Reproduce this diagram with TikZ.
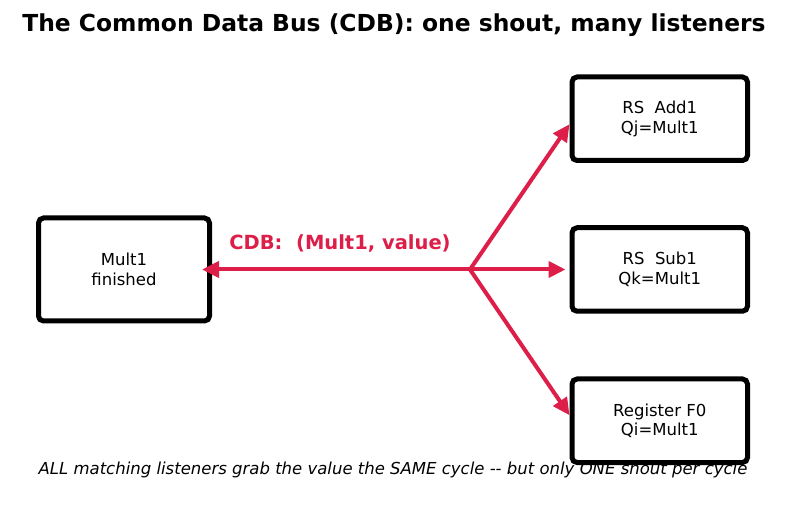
\documentclass[tikz,border=0pt]{standalone}
\usepackage{fontspec}
\setmainfont{DejaVu Sans}
\usetikzlibrary{arrows.meta}
\definecolor{cdbred}{RGB}{220,30,72}
\tikzset{
  unitbox/.style={draw=black, line width=5pt, rounded corners=5pt, align=center,
    font=\fontsize{16.5}{19.5}\selectfont, inner sep=0pt},
  cdbarrow/.style={draw=cdbred, line width=4pt, -{Triangle[length=17pt,width=16pt]}},
}
\begin{document}
\begin{tikzpicture}[x=1pt,y=-1pt]
\useasboundingbox (0,0) rectangle (787,510);
\node[font=\fontsize{23.4}{28}\selectfont\bfseries] (title) at (394,25) {The Common Data Bus (CDB): one shout, many listeners};
\node[unitbox, minimum width=171pt, minimum height=103pt] (mult) at (124,269.5) {Mult1\\finished};
\node[unitbox, minimum width=175.5pt, minimum height=83.5pt] (add) at (659.75,118.75) {RS\ \ Add1\\Qj=Mult1};
\node[unitbox, minimum width=175.5pt, minimum height=83.5pt] (sub) at (659.75,269.5) {RS\ \ Sub1\\Qk=Mult1};
\node[unitbox, minimum width=175.5pt, minimum height=83.5pt] (reg) at (659.75,420.75) {Register F0\\Qi=Mult1};
\coordinate (br) at (470,269.5);
\draw[cdbarrow, shorten >=-10pt] (br) -- (mult.east);
\draw[cdbarrow, shorten >=0pt] (br) -- ([yshift=-5.5pt]add.west);
\draw[cdbarrow, shorten >=4pt] (br) -- (sub.west);
\draw[cdbarrow, shorten >=0pt] (br) -- ([yshift=5.5pt]reg.west);
\node[text=cdbred, font=\fontsize{19.5}{23}\selectfont\bfseries] (lbl) at (340,243) {CDB:\ \ (Mult1, value)};
\node[font=\fontsize{16.5}{20}\selectfont\itshape] (cap) at (393,470) {ALL matching listeners grab the value the SAME cycle -{}- but only ONE shout per cycle};
\end{tikzpicture}
\end{document}
